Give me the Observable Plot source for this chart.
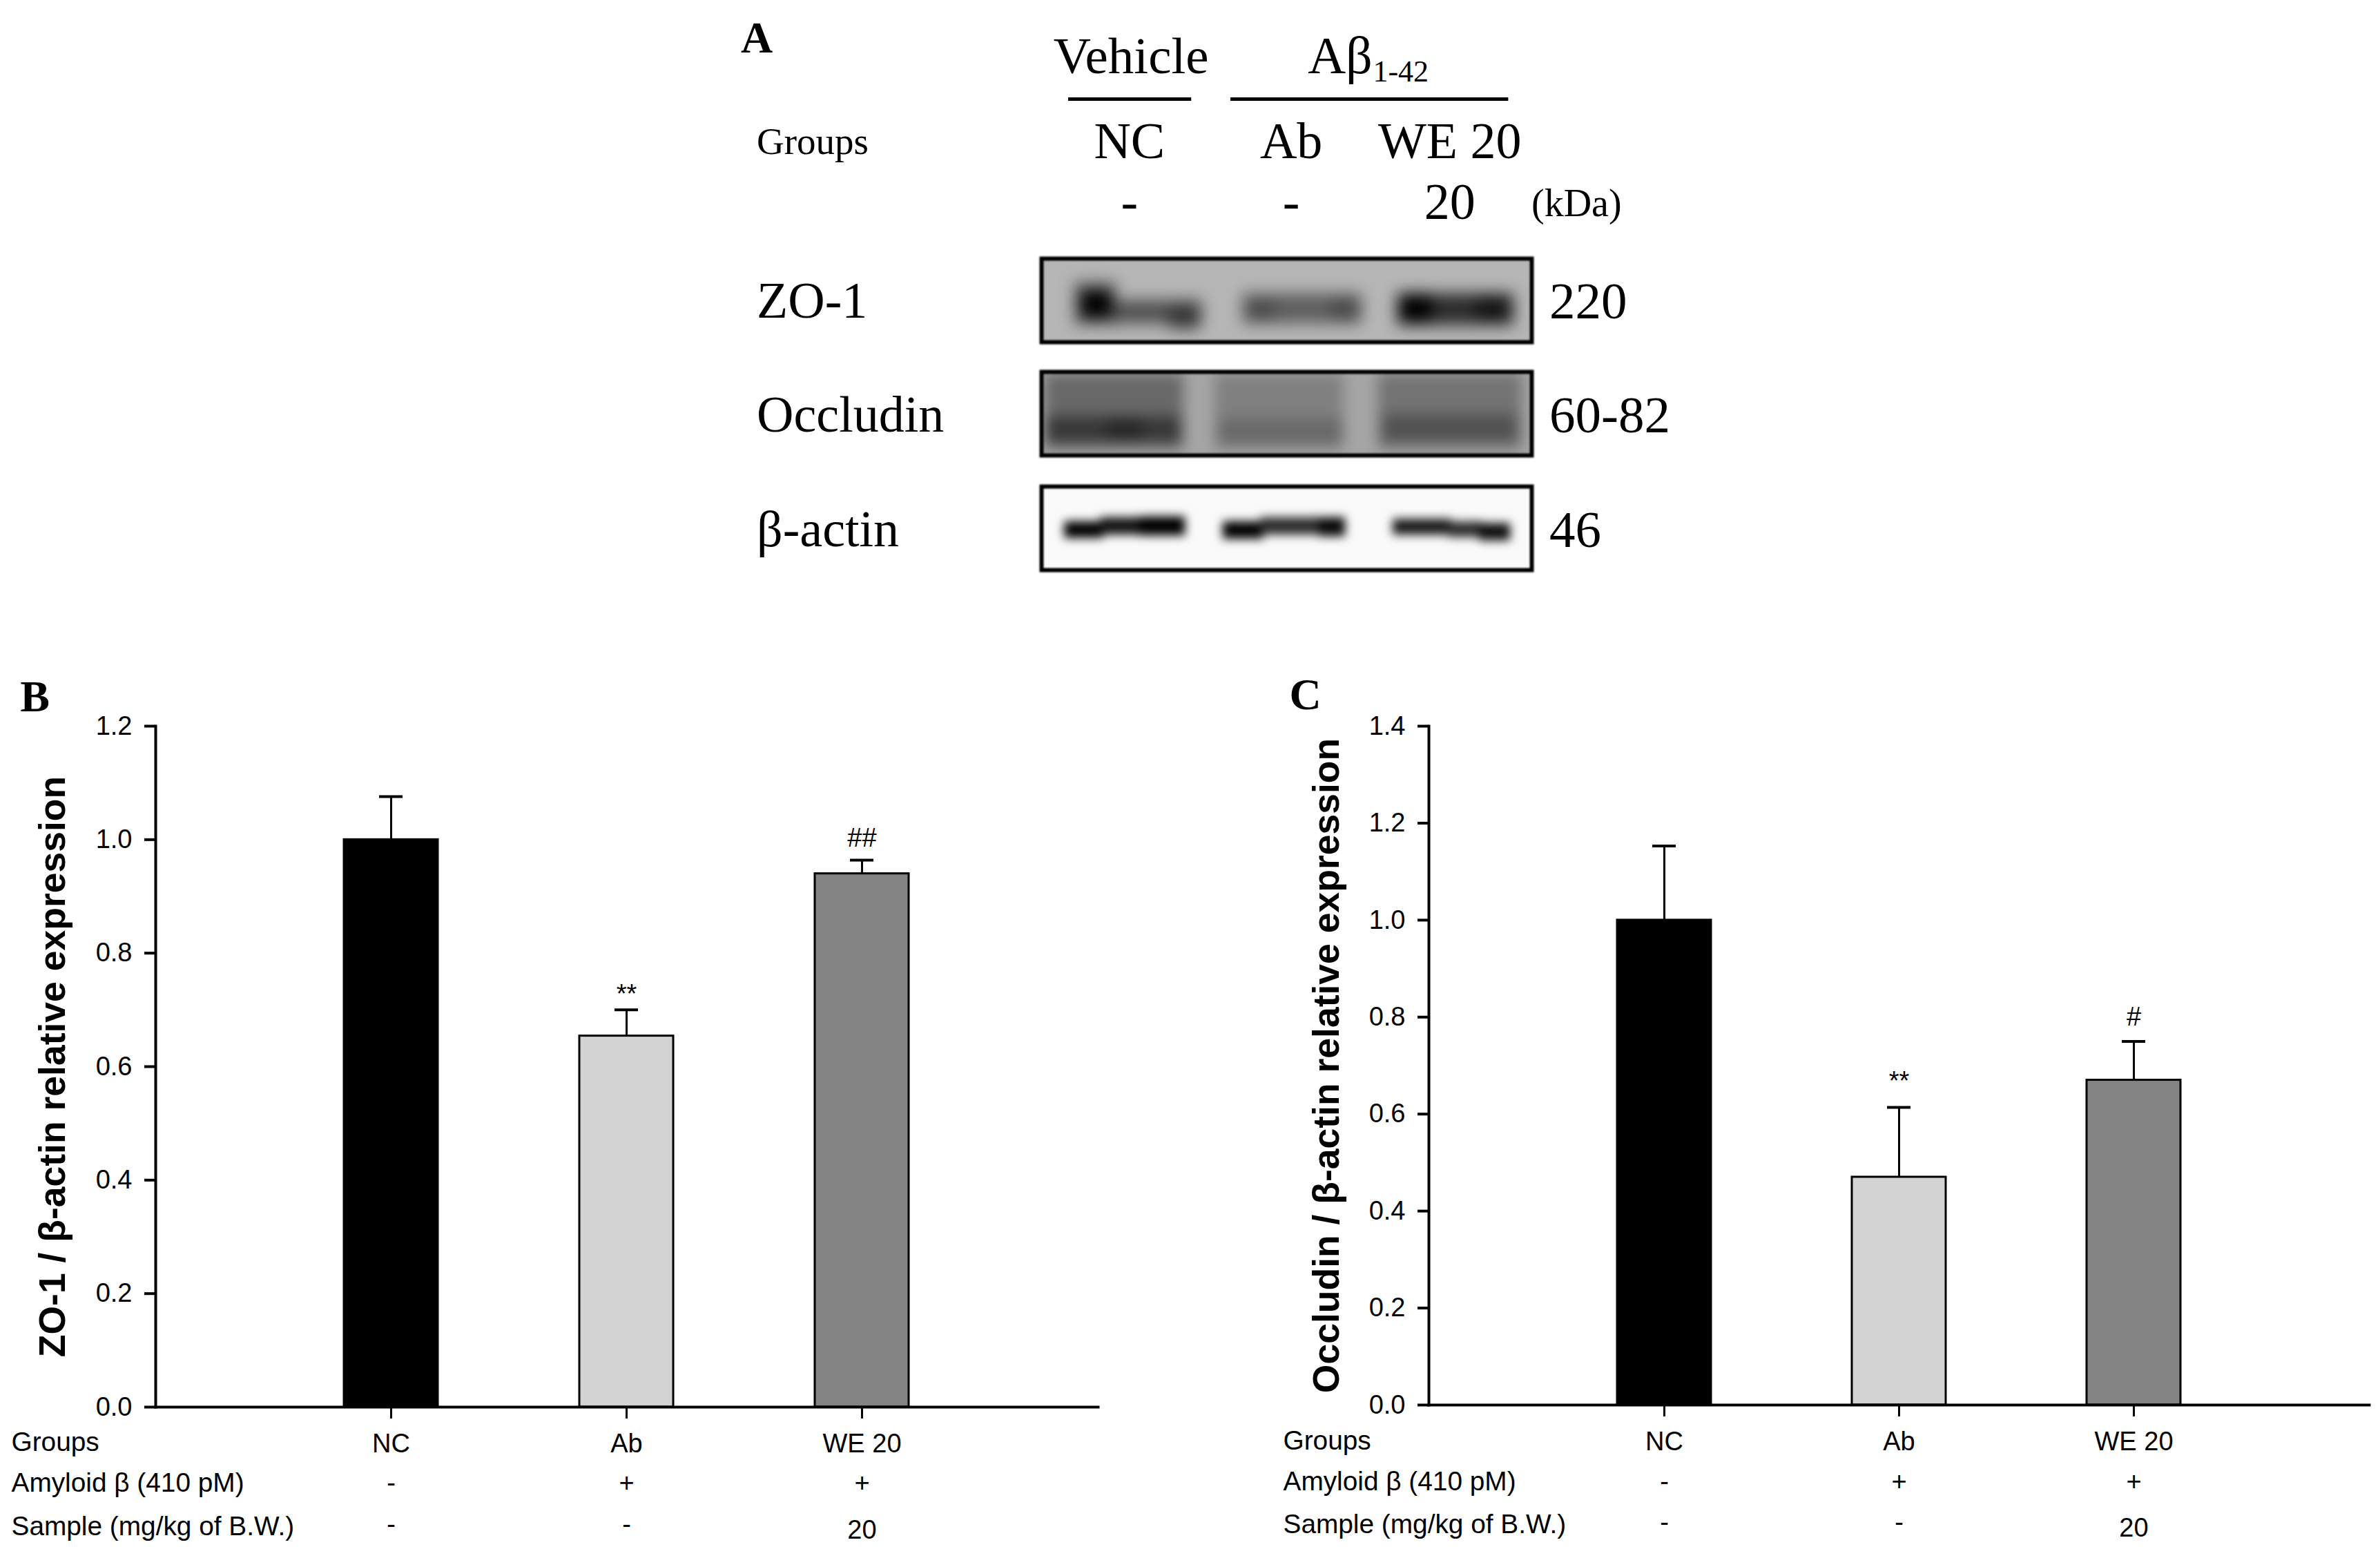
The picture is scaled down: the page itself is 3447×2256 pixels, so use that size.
<!DOCTYPE html>
<html>
<head>
<meta charset="utf-8">
<script src="https://cdn.jsdelivr.net/npm/d3@7"></script>
<script src="https://cdn.jsdelivr.net/npm/@observablehq/plot@0.6"></script>
<style>
  html, body { margin: 0; background: #fff; }
  #page { position: relative; width: 3447px; height: 2256px; overflow: hidden; background: #fff; }
  #page svg { position: absolute; }
</style>
</head>
<body>
<div id="page"></div>
<script>
// ---------- chart data ----------
const groups = ["NC", "Ab", "WE 20"];
const amyloidRow = ["-", "+", "+"];
const sampleRow = ["-", "-", "20"];
const barFills = ["#000000", "#d3d3d3", "#848484"];
const rowNames = ["Groups", "Amyloid β (410 pM)", "Sample (mg/kg of B.W.)"];

const zoValues = [1.0, 0.654, 0.94];
const zoTops = [1.076, 0.70, 0.964];
const zoMarks = ["", "**", "##"];
const zoMarkY = [0, 0.727, 1.002];
const zoTicks = [0, 0.2, 0.4, 0.6, 0.8, 1.0, 1.2];

const occValues = [1.0, 0.47, 0.67];
const occTops = [1.153, 0.614, 0.75];
const occMarks = ["", "**", "#"];
const occMarkY = [0, 0.667, 0.80];
const occTicks = [0, 0.2, 0.4, 0.6, 0.8, 1.0, 1.2, 1.4];

// ---------- western blot bands: lane units across, 0-1 down, grey level ----------
const zoBands = [
  {x1: 0.20, x2: 0.46, y1: 0.28, y2: 0.80, g: 105},
  {x1: 0.42, x2: 0.98, y1: 0.50, y2: 0.78, g: 80},
  {x1: 0.78, x2: 0.97, y1: 0.56, y2: 0.84, g: 55},
  {x1: 0.24, x2: 0.43, y1: 0.38, y2: 0.72, g: 0},
  {x1: 1.23, x2: 1.96, y1: 0.42, y2: 0.78, g: 95},
  {x1: 1.27, x2: 1.43, y1: 0.50, y2: 0.74, g: 75},
  {x1: 1.77, x2: 1.94, y1: 0.48, y2: 0.74, g: 75},
  {x1: 2.18, x2: 2.89, y1: 0.42, y2: 0.80, g: 45},
  {x1: 2.19, x2: 2.39, y1: 0.42, y2: 0.76, g: 0},
  {x1: 2.66, x2: 2.86, y1: 0.46, y2: 0.74, g: 20}
];
const occBands = [
  {x1: 0.02, x2: 0.87, y1: 0.02, y2: 0.93, g: 104},
  {x1: 1.06, x2: 1.85, y1: 0.02, y2: 0.93, g: 128},
  {x1: 2.06, x2: 2.94, y1: 0.02, y2: 0.93, g: 115},
  {x1: 0.03, x2: 0.85, y1: 0.54, y2: 0.84, g: 55},
  {x1: 0.40, x2: 0.62, y1: 0.56, y2: 0.80, g: 38},
  {x1: 1.09, x2: 1.84, y1: 0.56, y2: 0.86, g: 105},
  {x1: 2.09, x2: 2.91, y1: 0.52, y2: 0.82, g: 80}
];
const actinBands = [
  {x1: 0.14, x2: 0.38, y1: 0.42, y2: 0.62, g: 0},
  {x1: 0.36, x2: 0.62, y1: 0.37, y2: 0.58, g: 20},
  {x1: 0.60, x2: 0.88, y1: 0.36, y2: 0.59, g: 0},
  {x1: 1.11, x2: 1.36, y1: 0.42, y2: 0.63, g: 0},
  {x1: 1.34, x2: 1.72, y1: 0.37, y2: 0.58, g: 45},
  {x1: 1.70, x2: 1.86, y1: 0.37, y2: 0.60, g: 10},
  {x1: 2.15, x2: 2.51, y1: 0.39, y2: 0.58, g: 25},
  {x1: 2.49, x2: 2.70, y1: 0.42, y2: 0.61, g: 45},
  {x1: 2.68, x2: 2.87, y1: 0.44, y2: 0.65, g: 15}
];

// ---------- panel A labels ----------
const laneLabels = ["NC", "Ab", "WE 20"];
const laneDoses = ["-", "-", "20"];
const blotNames = ["ZO-1", "Occludin", "β-actin"];
const blotSizes = ["220", "60-82", "46"];

const sans = "'Liberation Sans', Arial, sans-serif";
const serif = "'Liberation Serif', 'Times New Roman', serif";
const page = document.getElementById("page");

function place(node, left, top) {
  node.style.left = left + "px";
  node.style.top = top + "px";
  page.appendChild(node);
}

function barChart(o) {
  const rows = groups.map((g, i) => ({
    g, v: o.values[i], top: o.tops[i], mark: o.marks[i], my: o.markY[i],
    amy: amyloidRow[i], smp: sampleRow[i], fill: barFills[i]
  }));
  const base = o.height - o.mb;
  const rowMark = (text, y, filter, extra = 0) => Plot.text(rows.filter(filter), {
    x: "g", text, frameAnchor: "bottom", lineAnchor: "middle", dy: y + extra - base, fontSize: 38, fill: "#000"
  });
  return Plot.plot({
    width: o.width, height: o.height,
    marginLeft: o.ml, marginRight: o.mr, marginTop: o.mt, marginBottom: o.mb,
    style: {fontFamily: sans, fontSize: "38px", background: "transparent", overflow: "visible", color: "#000"},
    x: {domain: groups, paddingInner: 0.6, paddingOuter: 0.8},
    y: {domain: o.yDomain},
    color: {type: "identity"},
    marks: [
      Plot.ruleX(rows, {x: "g", y1: "v", y2: "top", stroke: "#000", strokeWidth: 3}),
      Plot.tickY(rows, {x: "g", y: "top", stroke: "#000", strokeWidth: 4, insetLeft: 51, insetRight: 51}),
      Plot.barY(rows, {x: "g", y: "v", fill: "fill", stroke: "#000", strokeWidth: 3}),
      Plot.frame({anchor: "left", stroke: "#000", strokeWidth: 4}),
      Plot.frame({anchor: "bottom", stroke: "#000", strokeWidth: 4}),
      Plot.axisY({ticks: o.ticks, tickFormat: ".1f", tickSize: 16, tickPadding: 18, strokeWidth: 4, label: null, fontSize: 38}),
      Plot.axisX({tickSize: 17, tickPadding: 22, strokeWidth: 3, label: null, fontSize: 38}),
      Plot.text(rows.filter(d => d.mark), {x: "g", y: "my", text: "mark", fontSize: 38, fill: "#000"}),
      rowMark("amy", o.rowY[1], () => true),
      rowMark("smp", o.rowY[2], d => d.smp === "-", -3),
      rowMark("smp", o.rowY[2], d => d.smp !== "-", 5),
      ...rowNames.map((name, i) => Plot.text([name], {
        text: d => d, frameAnchor: "bottom-left", textAnchor: "start", lineAnchor: "middle",
        dx: o.rowX - o.ml, dy: o.rowY[i] - base, fontSize: 38.8, fill: "#000"
      })),
      Plot.text([o.title], {
        text: d => d, frameAnchor: "left", textAnchor: "middle", lineAnchor: "middle", rotate: -90,
        dx: o.titleX - o.ml, fontSize: o.titleSize, fontWeight: "bold", fill: "#000"
      }),
      Plot.text([o.letter], {
        text: d => d, frameAnchor: "top-left", textAnchor: "middle", lineAnchor: "middle",
        dx: o.letterX - o.ml, dy: o.letterY - o.mt, fontFamily: serif, fontWeight: "bold", fontSize: 64, fill: "#000"
      })
    ]
  });
}

place(barChart({
  width: 1800, height: 1296, ml: 225, mr: 210, mt: 91, mb: 219,
  values: zoValues, tops: zoTops, marks: zoMarks, markY: zoMarkY, ticks: zoTicks, yDomain: [0, 1.2],
  title: "ZO-1 / β-actin relative expression", titleX: 76, titleSize: 53.5,
  letter: "B", letterX: 50, letterY: 49, rowX: 16, rowY: [1128, 1187, 1250]
}), 0, 960);

place(barChart({
  width: 1647, height: 1296, ml: 269, mr: 16, mt: 91, mb: 222,
  values: occValues, tops: occTops, marks: occMarks, markY: occMarkY, ticks: occTicks, yDomain: [0, 1.4],
  title: "Occludin / β-actin relative expression", titleX: 121, titleSize: 53.5,
  letter: "C", letterX: 90, letterY: 46, rowX: 58, rowY: [1126, 1185, 1247]
}), 1800, 960);

// ---------- blots ----------
function blot(bands, background, blurPx, top) {
  const shade = d => `rgb(${d.g},${d.g},${d.g})`;
  place(Plot.plot({
    width: 710, height: 121, margin: 0,
    x: {domain: [0, 3], axis: null},
    y: {domain: [1, 0], axis: null},
    color: {type: "identity"},
    style: {background, overflow: "visible"},
    marks: [
      Plot.rect(bands, {x1: "x1", x2: "x2", y1: "y1", y2: "y2", fill: shade, clip: true, imageFilter: `blur(${blurPx}px)`}),
      Plot.frame({stroke: "#000", strokeWidth: 6, imageFilter: "blur(0.8px)"})
    ]
  }), 1507.5, top);
}
blot(zoBands, "#b6b6b6", 11, 374);
blot(occBands, "#a6a6a6", 10, 538);
blot(actinBands, "#fafafa", 7, 704);

// ---------- panel A labels, on a pixel-unit frame over the blots ----------
const laneX = [0.54, 1.53, 2.50];
const blotRowY = [436, 601, 767];
const laneRows = laneLabels.map((t, i) => ({t, dose: laneDoses[i], x: laneX[i]}));
const blotRows = blotNames.map((t, i) => ({t, size: blotSizes[i], y: blotRowY[i]}));
const headerLines = [
  {x1: 0.167, x2: 0.92, y: 143},
  {x1: 1.16, x2: 2.86, y: 143}
];
place(Plot.plot({
  width: 1500, height: 880, marginLeft: 507.5, marginRight: 282.5, marginTop: 0, marginBottom: 0,
  x: {domain: [0, 3], axis: null},
  y: {domain: [0, 880], range: [0, 880], axis: null},
  style: {fontFamily: serif, background: "transparent", overflow: "visible", color: "#000"},
  marks: [
    Plot.ruleY(headerLines, {x1: "x1", x2: "x2", y: "y", stroke: "#000", strokeWidth: 5}),
    Plot.text(["Vehicle"], {text: d => d, x: () => 0.55, y: () => 81, fontSize: 75, fill: "#000"}),
    Plot.text(["Aβ"], {text: d => d, x: () => 1.632, y: () => 81, textAnchor: "start", fontSize: 76, fill: "#000"}),
    Plot.text(["1-42"], {text: d => d, x: () => 2.03, y: () => 103, textAnchor: "start", fontSize: 44, fill: "#000"}),
    Plot.text(laneRows, {x: "x", y: () => 205, text: "t", fontSize: 74, fill: "#000"}),
    Plot.text(laneRows, {x: "x", y: () => 293, text: "dose", fontSize: 74, fill: "#000"}),
    Plot.text(["Groups"], {text: d => d, x: () => 0, y: () => 205, textAnchor: "start", dx: -412, fontSize: 55, fill: "#000"}),
    Plot.text(["(kDa)"], {text: d => d, x: () => 3, y: () => 295, textAnchor: "start", fontSize: 56, fill: "#000"}),
    Plot.text(blotRows, {x: () => 0, y: "y", text: "t", textAnchor: "start", dx: -412, fontSize: 74, fill: "#000"}),
    Plot.text(blotRows, {x: () => 3, y: "y", text: "size", textAnchor: "start", dx: 26, fontSize: 75, fill: "#000"}),
    Plot.text(["A"], {text: d => d, x: () => 0, y: () => 55, dx: -412, fontWeight: "bold", fontSize: 64, fill: "#000"})
  ]
}), 1000, 0);
</script>
</body>
</html>
